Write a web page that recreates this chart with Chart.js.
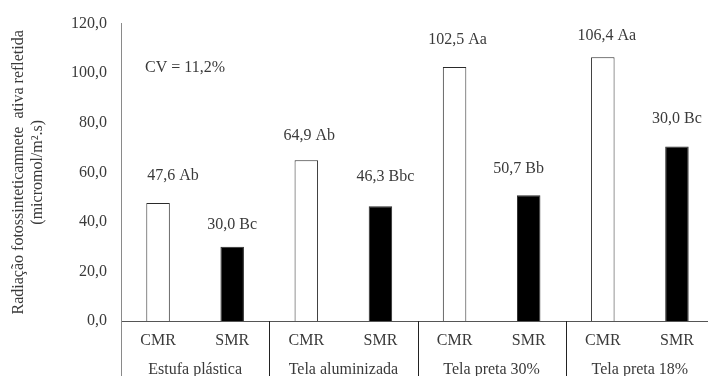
<!DOCTYPE html>
<html>
<head>
<meta charset="utf-8">
<script src="https://cdn.jsdelivr.net/npm/chart.js@4.4.0/dist/chart.umd.min.js"></script>
<style>
  html, body { margin: 0; padding: 0; background: #fff; overflow: hidden; }
  #wrap { width: 708px; height: 376px; overflow: hidden; position: relative; }
  #c { display: block; }
</style>
</head>
<body>
<div id="wrap"><canvas id="c" width="720" height="376"></canvas></div>
<script>
const groups = ['Estufa plástica', 'Tela aluminizada', 'Tela preta 30%', 'Tela preta 18%'];
const subCategories = ['CMR', 'SMR'];
const cmrValues = [47.6, 64.9, 102.5, 106.4];
const smrValues = [30.0, 46.3, 50.7, 70.4];
const cmrLabels = ['47,6 Ab', '64,9 Ab', '102,5 Aa', '106,4 Aa'];
const smrLabels = ['30,0 Bc', '46,3 Bbc', '50,7 Bb', '30,0 Bc'];
const yTicks = [0, 20, 40, 60, 80, 100, 120];
const cvText = 'CV = 11,2%';
const yTitleLines = ['Radiação fotossinteticamnete  ativa refletida', '(micromol/m².s)'];

// Build the flat tables the library needs
const labels = [], values = [], barLabels = [], fills = [];
groups.forEach((g, i) => {
  labels.push(subCategories[0]); values.push(cmrValues[i]); barLabels.push(cmrLabels[i]); fills.push('#ffffff');
  labels.push(subCategories[1]); values.push(smrValues[i]); barLabels.push(smrLabels[i]); fills.push('#000000');
});

const FONT = '"Liberation Serif", "Times New Roman", serif';
const TXT = '#3a3a3a';

const decorPlugin = {
  id: 'decor',
  afterDraw(chart, args, opts) {
    const ctx = chart.ctx;
    const xs = chart.scales.x, ys = chart.scales.y;
    const area = chart.chartArea;
    const H = chart.height;
    ctx.save();
    // left axis extension below the x-axis
    ctx.strokeStyle = '#8a8a8a';
    ctx.lineWidth = 1;
    ctx.beginPath();
    ctx.moveTo(Math.round(area.left) + 0.5, area.bottom);
    ctx.lineTo(Math.round(area.left) + 0.5, H);
    ctx.stroke();
    // group separators below axis
    ctx.strokeStyle = '#222';
    for (let g = 1; g < groups.length; g++) {
      const x = (xs.getPixelForValue(2 * g - 1) + xs.getPixelForValue(2 * g)) / 2;
      ctx.beginPath();
      ctx.moveTo(Math.round(x) + 0.5, area.bottom);
      ctx.lineTo(Math.round(x) + 0.5, H);
      ctx.stroke();
    }
    // group labels
    ctx.fillStyle = TXT;
    ctx.font = '16px ' + FONT;
    ctx.textAlign = 'center';
    ctx.textBaseline = 'middle';
    groups.forEach((g, i) => {
      const x = (xs.getPixelForValue(2 * i) + xs.getPixelForValue(2 * i + 1)) / 2;
      ctx.fillText(g, x, area.bottom + opts.groupLabelDy);
    });
    // bar value labels
    const meta = chart.getDatasetMeta(0);
    meta.data.forEach((bar, i) => {
      const off = opts.labelOffsets[i];
      ctx.fillText(barLabels[i], bar.x + off[0], bar.y + off[1]);
    });
    // CV text
    ctx.textAlign = 'left';
    ctx.fillText(cvText, opts.cvPos[0], opts.cvPos[1]);
    // y-axis title (two rotated lines)
    const cy = (area.top + area.bottom) / 2 + opts.titleDy;
    yTitleLines.forEach((line, i) => {
      ctx.save();
      ctx.translate(opts.titleX[i], cy);
      ctx.rotate(-Math.PI / 2);
      ctx.textAlign = 'center';
      ctx.fillText(line, 0, 0);
      ctx.restore();
    });
    ctx.restore();
  }
};

new Chart(document.getElementById('c'), {
  type: 'bar',
  data: {
    labels: labels,
    datasets: [{
      data: values,
      backgroundColor: fills,
      borderColor: '#2a2a2a',
      borderWidth: 1,
      borderSkipped: 'bottom',
      barPercentage: 0.317,
      categoryPercentage: 1.0
    }]
  },
  options: {
    responsive: false,
    animation: false,
    events: [],
    layout: { padding: { top: 20, right: 6, left: 0, bottom: 0 } },
    plugins: {
      legend: { display: false },
      tooltip: { enabled: false },
      decor: {
        labelOffsets: [[15, -27], [0, -22], [3, -24], [5, -29], [3, -27], [-10, -27], [4, -22], [0, -28]],
        cvPos: [145, 68],
        groupLabelDy: 48.5,
        titleX: [19, 38],
        titleDy: 0
      }
    },
    scales: {
      x: {
        grid: { display: false, drawTicks: false },
        border: { display: true, color: '#555', width: 1 },
        ticks: { color: TXT, font: { family: FONT, size: 16 }, padding: 10, maxRotation: 0, autoSkip: false },
        afterFit(s) { s.height = 55; }
      },
      y: {
        min: 0, max: 120,
        afterBuildTicks(s) { s.ticks = yTicks.map(v => ({ value: v })); },
        grid: { display: false, drawTicks: false },
        border: { display: true, color: '#8a8a8a', width: 1 },
        ticks: {
          color: TXT, font: { family: FONT, size: 16 }, padding: 14,
          callback: v => v.toFixed(1).replace('.', ',')
        },
        afterFit(s) { s.width = 121; }
      }
    }
  },
  plugins: [decorPlugin]
});
</script>
</body>
</html>
